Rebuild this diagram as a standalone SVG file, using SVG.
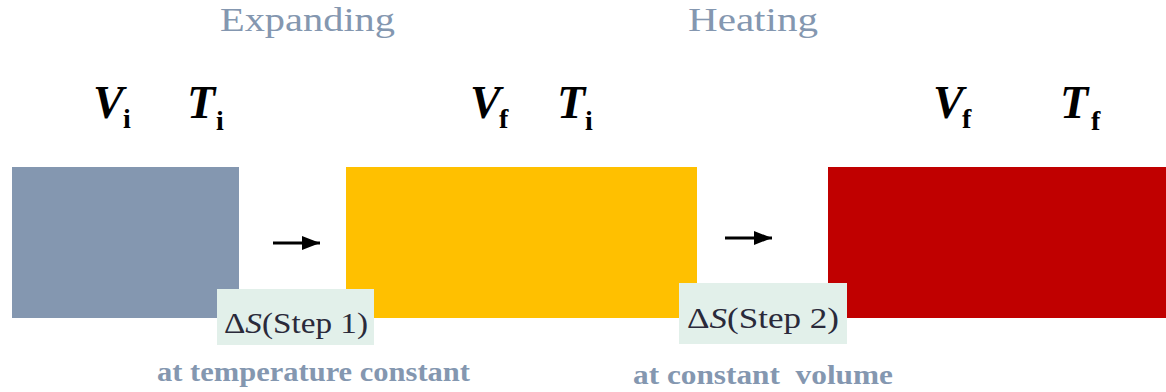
<svg xmlns="http://www.w3.org/2000/svg" width="1166" height="392" viewBox="0 0 1166 392">
<style>
text{font-family:"Liberation Serif","DejaVu Serif",serif;}
.title{font-size:34px;fill:#8497B0;}
.sub{font-size:27px;font-weight:bold;fill:#8497B0;}
.var{font-size:46px;font-weight:bold;font-style:italic;fill:#000;}
.idx{font-size:28px;font-weight:bold;fill:#000;}
.lbl{fill:#E2F0EA;}
.lt{font-size:30px;fill:#2a2a3a;}
</style>
<defs>
<marker id="ah" markerWidth="18" markerHeight="14" refX="18" refY="7" orient="auto" markerUnits="userSpaceOnUse">
<path d="M0,0 L18,7 L0,14 Z" fill="#000"/>
</marker>
</defs>
<text class="title" x="220" y="31" textLength="175" lengthAdjust="spacingAndGlyphs">Expanding</text>
<text class="title" x="688" y="31" textLength="130" lengthAdjust="spacingAndGlyphs">Heating</text>
<g id="state1">
<rect x="12" y="167" width="227" height="151" fill="#8497B0"/>
<text class="var" x="93" y="118">V</text>
<text class="idx" x="123" y="128">i</text>
<text class="var" x="187" y="118">T</text>
<text class="idx" x="216" y="130">i</text>
</g>
<g id="state2">
<rect x="346" y="167" width="351" height="151" fill="#FFC000"/>
<text class="var" x="470" y="118">V</text>
<text class="idx" x="499" y="128">f</text>
<text class="var" x="557" y="118">T</text>
<text class="idx" x="585" y="130">i</text>
</g>
<g id="state3">
<rect x="828" y="167" width="338" height="151" fill="#C00000"/>
<text class="var" x="933" y="118">V</text>
<text class="idx" x="962" y="128">f</text>
<text class="var" x="1060" y="118">T</text>
<text class="idx" x="1091" y="130">f</text>
</g>
<g id="connectors" stroke="#000" stroke-width="3" fill="none">
<line x1="273" y1="243" x2="320" y2="243" marker-end="url(#ah)"/>
<line x1="725" y1="238" x2="772" y2="238" marker-end="url(#ah)"/>
</g>
<g id="step1">
<rect class="lbl" x="217" y="289" width="157" height="56"/>
<text class="lt" x="224" y="333" textLength="144" lengthAdjust="spacingAndGlyphs">Δ<tspan font-style="italic">S</tspan>(Step 1)</text>
</g>
<g id="step2">
<rect class="lbl" x="679" y="283" width="168" height="61"/>
<text class="lt" x="687" y="328" textLength="152" lengthAdjust="spacingAndGlyphs">Δ<tspan font-style="italic">S</tspan>(Step 2)</text>
</g>
<text class="sub" x="157" y="381" textLength="313" lengthAdjust="spacingAndGlyphs">at temperature constant</text>
<text class="sub" x="633" y="384" textLength="260" lengthAdjust="spacingAndGlyphs" xml:space="preserve">at constant  volume</text>
</svg>
